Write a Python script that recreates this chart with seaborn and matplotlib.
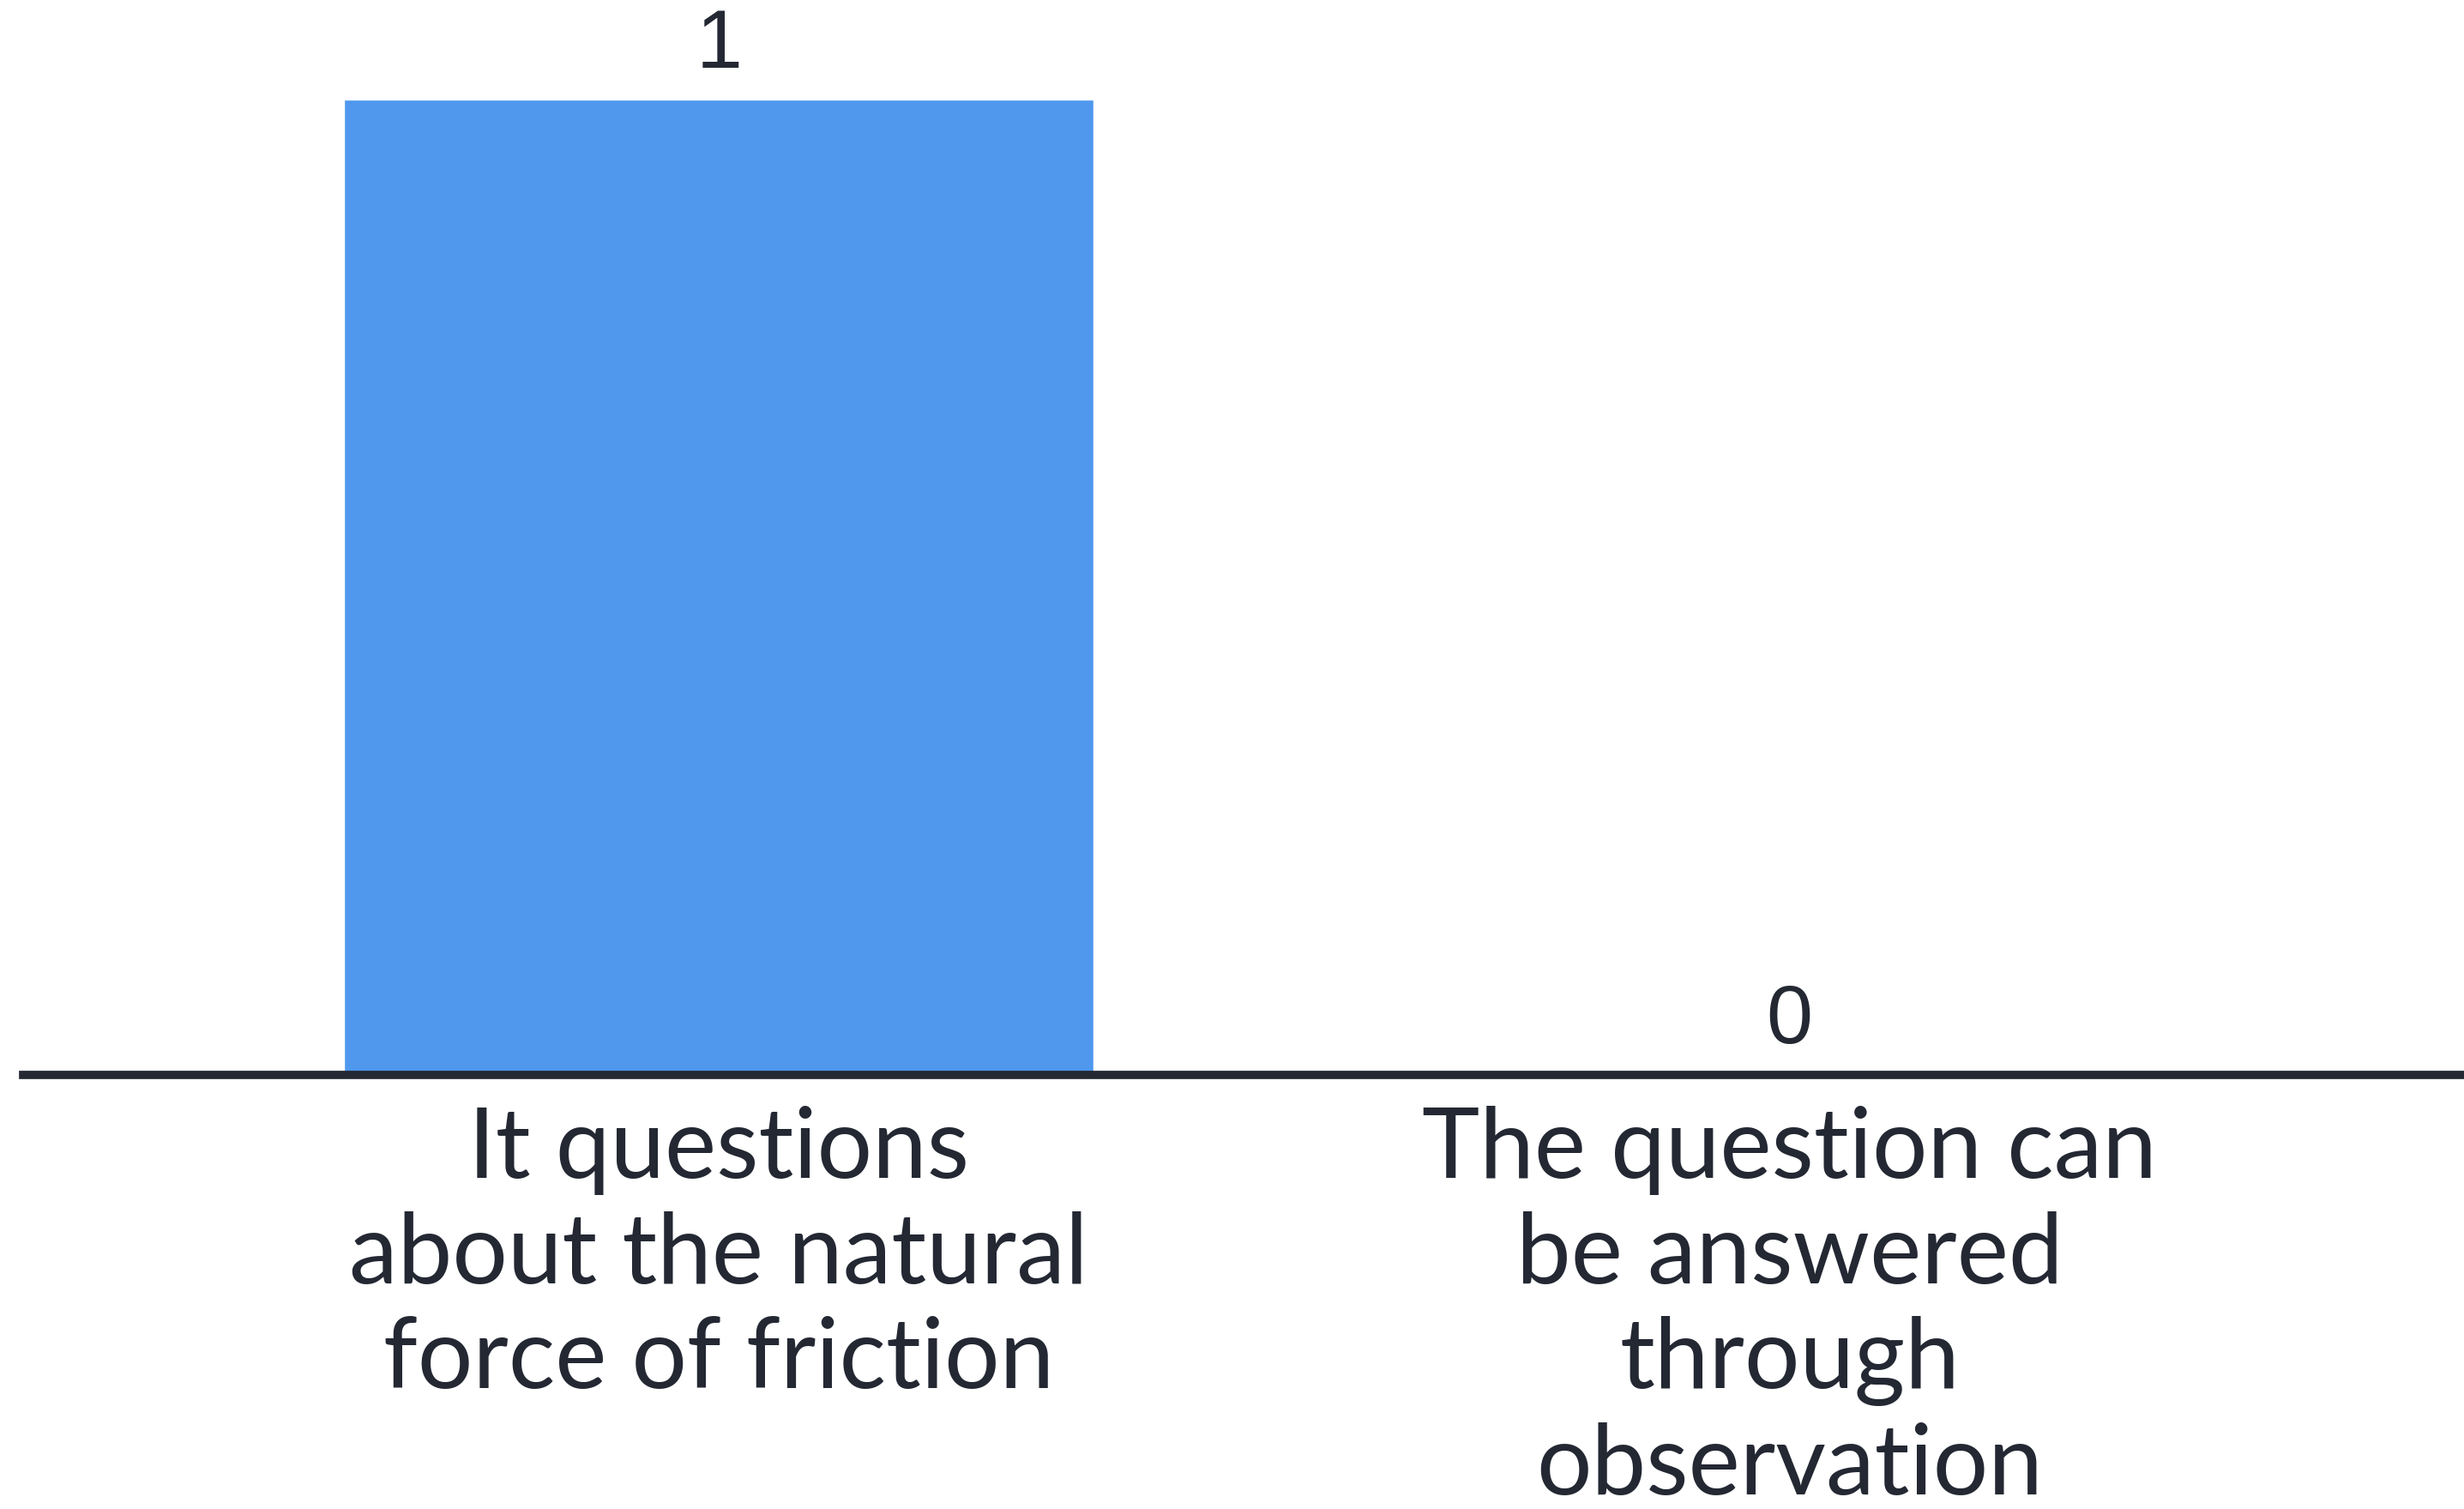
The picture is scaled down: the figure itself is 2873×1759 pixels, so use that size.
import matplotlib
matplotlib.use("Agg")
import matplotlib.pyplot as plt
import seaborn as sns

categories = [
    "It questions\nabout the natural\nforce of friction",
    "The question can\nbe answered\nthrough\nobservation",
]
values = [1, 0]
value_labels = ["1", "0"]

sns.set_theme(style="white")
plt.rcParams['font.family'] = ['Lato', 'DejaVu Sans']

BAR = "#4f98ee"
INK = "#232833"

fig = plt.figure(figsize=(28.73, 17.59), dpi=100)
ax = fig.add_axes([27/2873, 1 - 1253/1759, 1 - 27/2873, 1253/1759])

sns.barplot(x=categories, y=values, color=BAR, width=0.7, saturation=1, ax=ax)

ax.set_xlim(-0.65, 1.63)
ax.set_ylim(0, 1.102)

for c in ax.containers:
    ax.bar_label(c, labels=value_labels, padding=12, fontsize=70,
                 color=INK, family=['Liberation Sans', 'DejaVu Sans'])

for s in ["top", "right", "left"]:
    ax.spines[s].set_visible(False)
ax.spines["bottom"].set_color(INK)
ax.spines["bottom"].set_linewidth(7)
ax.spines["bottom"].set_zorder(5)

ax.set_yticks([])
ax.set_xlabel("")
ax.set_ylabel("")
ax.tick_params(axis="x", length=0, pad=26, labelsize=82, labelcolor=INK)
for t in ax.get_xticklabels():
    t.set_linespacing(1.22)

fig.savefig("out.png", dpi=100, facecolor="white")
